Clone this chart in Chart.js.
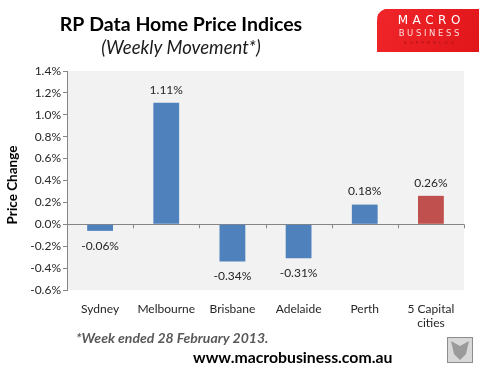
<!DOCTYPE html>
<html>
<head>
<meta charset="utf-8">
<script src="https://cdn.jsdelivr.net/npm/chart.js@4.4.1/dist/chart.umd.min.js"></script>
<style>
    html, body { margin: 0; padding: 0; background: #ffffff; }
    #wrap { width: 488px; height: 382px; position: relative; }
</style>
</head>
<body>
<div id="wrap"><canvas id="priceChart" width="488" height="382"></canvas></div>
<script>
// Chart data
const cities = ['Sydney', 'Melbourne', 'Brisbane', 'Adelaide', 'Perth', ['5 Capital', 'cities']];
const weeklyChange = [-0.06, 1.11, -0.34, -0.31, 0.18, 0.26];
const barColors = ['#4f81bd', '#4f81bd', '#4f81bd', '#4f81bd', '#4f81bd', '#c0504d'];
const yMin = -0.6;
const yMax = 1.4;
const yStep = 0.2;

const FONT = 'Lato, "Open Sans", sans-serif';

// Grey plot background
const plotBackground = {
    id: 'plotBackground',
    beforeDraw(chart) {
        const { ctx, chartArea } = chart;
        ctx.save();
        ctx.fillStyle = '#f2f2f2';
        ctx.fillRect(chartArea.left, chartArea.top, chartArea.right - chartArea.left, chartArea.bottom - chartArea.top);
        ctx.restore();
    }
};

// Category tick marks hanging off the zero line
const zeroTicks = {
    id: 'zeroTicks',
    afterDatasetsDraw(chart) {
        const { ctx, scales } = chart;
        const y0 = scales.y.getPixelForValue(0);
        const n = cities.length;
        ctx.save();
        ctx.strokeStyle = '#868686';
        ctx.lineWidth = 1;
        for (let i = 1; i <= n; i++) {
            const x = Math.round((scales.x.getPixelForValue(i - 1) + scales.x.getPixelForValue(i)) / 2) + 0.5;
            ctx.beginPath();
            ctx.moveTo(x, y0);
            ctx.lineTo(x, y0 + 4);
            ctx.stroke();
        }
        ctx.restore();
    }
};

// Value labels above / below bars
const valueLabels = {
    id: 'valueLabels',
    afterDatasetsDraw(chart) {
        const { ctx } = chart;
        const meta = chart.getDatasetMeta(0);
        ctx.save();
        ctx.font = '12px ' + FONT;
        ctx.fillStyle = '#262626';
        ctx.textAlign = 'center';
        ctx.textBaseline = 'middle';
        meta.data.forEach((bar, i) => {
            const v = weeklyChange[i];
            const y = v >= 0 ? bar.y - 13 : bar.y + 15;
            ctx.fillText(v.toFixed(2) + '%', bar.x, y);
        });
        ctx.restore();
    }
};

// Titles, axis title, footnotes and logo
const decorations = {
    id: 'decorations',
    afterDraw(chart) {
        const { ctx } = chart;
        ctx.save();
        ctx.textAlign = 'center';
        ctx.textBaseline = 'middle';

        ctx.fillStyle = '#000000';
        ctx.font = 'bold 19.5px ' + FONT;
        ctx.fillText('RP Data Home Price Indices', 181, 25);
        ctx.font = 'italic 18.5px ' + FONT;
        ctx.fillStyle = '#1a1a1a';
        ctx.fillText('(Weekly Movement*)', 181, 48);

        // y axis title
        ctx.save();
        ctx.translate(13, 185);
        ctx.rotate(-Math.PI / 2);
        ctx.font = 'bold 13.5px ' + FONT;
        ctx.fillStyle = '#000000';
        ctx.fillText('Price Change', 0, 0);
        ctx.restore();

        // footnotes
        ctx.textAlign = 'left';
        ctx.font = 'bold italic 14px ' + FONT;
        ctx.fillStyle = '#595959';
        ctx.fillText('*Week ended 28 February 2013.', 76, 338);
        ctx.font = 'bold 15.8px ' + FONT;
        ctx.fillStyle = '#000000';
        ctx.fillText('www.macrobusiness.com.au', 193, 358);

        // logo box
        const grad = ctx.createLinearGradient(372, 9, 479, 52);
        grad.addColorStop(0, '#f0262b');
        grad.addColorStop(1, '#e0161b');
        ctx.fillStyle = grad;
        ctx.beginPath();
        ctx.moveTo(385, 9);
        ctx.lineTo(479, 9);
        ctx.lineTo(479, 52);
        ctx.lineTo(377, 52);
        ctx.lineTo(377, 22);
        ctx.quadraticCurveTo(376, 12, 385, 9);
        ctx.closePath();
        ctx.fill();
        ctx.textAlign = 'center';
        ctx.fillStyle = '#ffffff';
        ctx.font = '12px "DejaVu Sans", sans-serif';
        drawSpaced(ctx, 'MACRO', 429, 21, 4.5);
        ctx.fillStyle = '#fbdcdc';
        ctx.font = '8.5px "DejaVu Sans", sans-serif';
        drawSpaced(ctx, 'BUSINESS', 429, 34, 2.6);
        ctx.fillStyle = '#9e1014';
        ctx.font = '4px "DejaVu Sans", sans-serif';
        drawSpaced(ctx, 'SUPERBLOG', 429, 43, 3.2);

        // wolf image placeholder
        ctx.fillStyle = '#d8d8d8';
        ctx.fillRect(447, 337, 26, 26);
        ctx.strokeStyle = '#8c8c8c';
        ctx.lineWidth = 1;
        ctx.strokeRect(447.5, 337.5, 25, 25);
        ctx.fillStyle = '#9a9a9a';
        ctx.beginPath();
        ctx.moveTo(451, 341);
        ctx.lineTo(460, 346);
        ctx.lineTo(469, 341);
        ctx.lineTo(466, 354);
        ctx.lineTo(460, 360);
        ctx.lineTo(454, 354);
        ctx.closePath();
        ctx.fill();
        ctx.restore();
    }
};

function drawSpaced(ctx, text, cx, cy, spacing) {
    const widths = [...text].map(c => ctx.measureText(c).width);
    const total = widths.reduce((a, b) => a + b, 0) + spacing * (text.length - 1);
    let x = cx - total / 2;
    ctx.textAlign = 'left';
    [...text].forEach((c, i) => {
        ctx.fillText(c, x, cy);
        x += widths[i] + spacing;
    });
    ctx.textAlign = 'center';
}

new Chart(document.getElementById('priceChart'), {
    type: 'bar',
    data: {
        labels: cities,
        datasets: [{
            data: weeklyChange,
            backgroundColor: barColors,
            borderWidth: 0,
            barPercentage: 0.39,
            categoryPercentage: 1.0
        }]
    },
    options: {
        responsive: false,
        animation: false,
        devicePixelRatio: 1,
        layout: { padding: { top: 71, right: 24, bottom: 0, left: 0 } },
        plugins: {
            legend: { display: false },
            tooltip: { enabled: false }
        },
        scales: {
            x: {
                grid: { display: false },
                border: { display: false },
                ticks: {
                    color: '#262626',
                    font: { family: FONT, size: 12 },
                    padding: 4,
                    maxRotation: 0,
                    autoSkip: false
                },
                afterFit(scale) { scale.height = 92; }
            },
            y: {
                min: yMin,
                max: yMax,
                border: { display: true, color: '#868686' },
                grid: {
                    drawOnChartArea: true,
                    color: ctx => (ctx.tick && Math.abs(ctx.tick.value) < 1e-9 ? '#868686' : 'rgba(0,0,0,0)'),
                    tickColor: '#868686',
                    tickLength: 4
                },
                ticks: {
                    stepSize: yStep,
                    color: '#262626',
                    font: { family: FONT, size: 12 },
                    padding: 2,
                    callback: v => v.toFixed(1) + '%'
                },
                afterFit(scale) { scale.width = 67; }
            }
        }
    },
    plugins: [plotBackground, zeroTicks, valueLabels, decorations]
});
</script>
</body>
</html>
